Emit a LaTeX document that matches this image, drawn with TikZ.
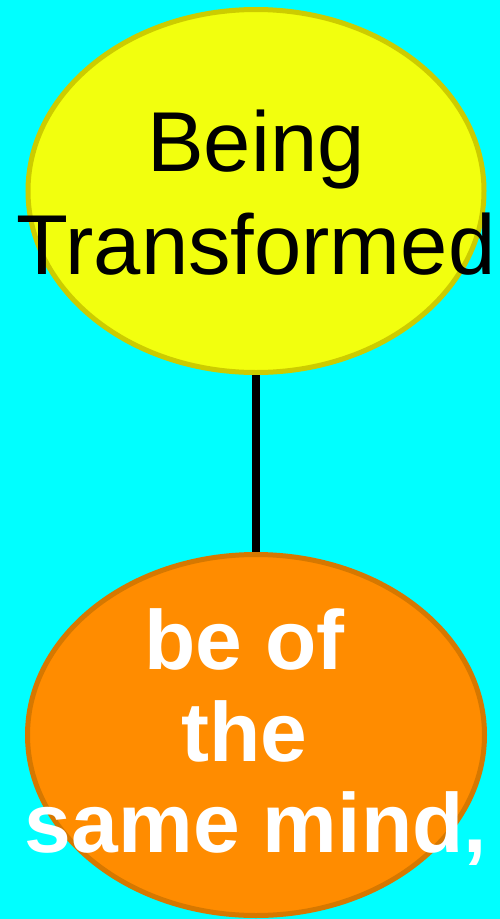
\documentclass[tikz,border=0pt]{standalone}
\usepackage{fontspec}
\setmainfont{Liberation Sans}
\usetikzlibrary{shapes.geometric, math}
\definecolor{qcyan}{RGB}{0,255,255}
\definecolor{qyellow}{RGB}{242,255,14}
\definecolor{qyellowline}{RGB}{204,204,0}
\definecolor{qorange}{RGB}{255,140,0}
\definecolor{qorangeline}{RGB}{214,120,0}

\begin{document}
\begin{tikzpicture}[x=1pt,y=-1pt]
\tikzmath{
\W=500;
\H=919;
\cx=256;
}

%background
\fill[qcyan] (0,0) rectangle (\W,\H);
\useasboundingbox (0,0) rectangle (\W,\H);

%ellipses
\node[ellipse, draw=qyellowline, fill=qyellow, line width=5pt, minimum width=456pt, minimum height=363pt] (being) at (\cx,191) {};
\node[ellipse, draw=qorangeline, fill=qorange, line width=5pt, minimum width=457pt, minimum height=361pt] (mind) at (\cx,735) {};

%connector
\draw[line width=8pt] (being) -- (mind);

%texts
\node[font=\fontsize{85}{103}\selectfont, align=center, inner sep=0pt] (beingtext) at (\cx,193) {Being\\Transformed};
\node[font=\fontsize{84}{91.5}\selectfont\bfseries, text=white, align=center, inner sep=0pt] (mindtext) at (\cx,737.5) {\mbox{be of\ }\\\mbox{the\ }\\same mind,};

\end{tikzpicture}
\end{document}
